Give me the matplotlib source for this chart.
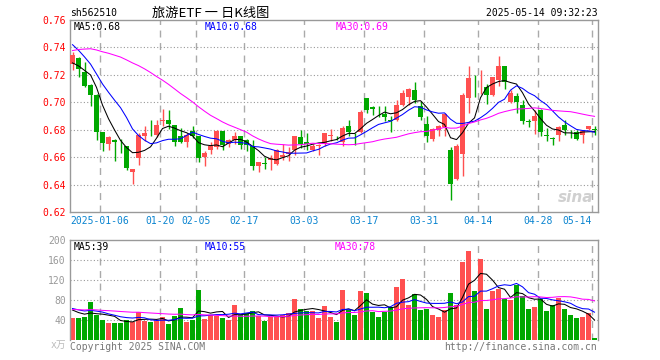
import matplotlib
matplotlib.use('Agg')
from matplotlib import pyplot as plt
import numpy as np
import pandas as pd

plt.rcParams['font.family'] = ['DejaVu Sans Mono', 'Noto Sans CJK SC']

# daily candles, 2024-12-27 .. 2025-05-14 (88 trading days)
open_ = [0.7279, 0.7323, 0.7218, 0.7128, 0.7055, 0.6780, 0.6698, 0.6727, 0.6675, 0.6678,
         0.6489, 0.6591, 0.6751, 0.6806, 0.6763, 0.6866, 0.6873, 0.6836, 0.6756, 0.6708,
         0.6793, 0.6751, 0.6600, 0.6649, 0.6673, 0.6788, 0.6698, 0.6727, 0.6756, 0.6727,
         0.6678, 0.6537, 0.6553, 0.6578, 0.6552, 0.6600, 0.6622, 0.6649, 0.6746, 0.6708,
         0.6654, 0.6681, 0.6698, 0.6755, 0.6745, 0.6708, 0.6829, 0.6770, 0.6780, 0.7031,
         0.6965, 0.6927, 0.6917, 0.6868, 0.6873, 0.6983, 0.7038, 0.7087, 0.6975, 0.6844,
         0.6732, 0.6795, 0.6819, 0.6654, 0.6440, 0.6625, 0.7031, 0.7112, 0.7138, 0.7112,
         0.7055, 0.7160, 0.7267, 0.7000, 0.7048, 0.6983, 0.6861, 0.6863, 0.6946, 0.6757,
         0.6733, 0.6763, 0.6836, 0.6783, 0.6780, 0.6763, 0.6805, 0.6801]
high = [0.7370, 0.7330, 0.7291, 0.7135, 0.7060, 0.6785, 0.6756, 0.6730, 0.6732, 0.6683,
        0.6515, 0.6776, 0.6829, 0.6873, 0.6868, 0.6951, 0.6941, 0.6836, 0.6812, 0.6776,
        0.6829, 0.6756, 0.6647, 0.6712, 0.6795, 0.6788, 0.6734, 0.6785, 0.6756, 0.6734,
        0.6727, 0.6566, 0.6600, 0.6617, 0.6659, 0.6698, 0.6673, 0.6756, 0.6795, 0.6776,
        0.6698, 0.6698, 0.6776, 0.6805, 0.6756, 0.6829, 0.6873, 0.6776, 0.6941, 0.7031,
        0.6975, 0.6970, 0.6970, 0.6902, 0.7019, 0.7087, 0.7104, 0.7146, 0.7007, 0.6897,
        0.6812, 0.6836, 0.6922, 0.6675, 0.6698, 0.7068, 0.7262, 0.7202, 0.7233, 0.7136,
        0.7184, 0.7335, 0.7267, 0.7087, 0.7068, 0.7019, 0.6881, 0.6941, 0.6953, 0.6812,
        0.6750, 0.6824, 0.6873, 0.6795, 0.6795, 0.6795, 0.6829, 0.6829]
low = [0.7233, 0.7182, 0.7110, 0.6970, 0.6727, 0.6642, 0.6650, 0.6569, 0.6630, 0.6508,
       0.6406, 0.6545, 0.6715, 0.6751, 0.6746, 0.6829, 0.6805, 0.6678, 0.6703, 0.6671,
       0.6739, 0.6564, 0.6537, 0.6622, 0.6659, 0.6649, 0.6673, 0.6693, 0.6661, 0.6642,
       0.6503, 0.6489, 0.6513, 0.6508, 0.6545, 0.6576, 0.6569, 0.6617, 0.6666, 0.6654,
       0.6642, 0.6618, 0.6683, 0.6715, 0.6727, 0.6679, 0.6751, 0.6690, 0.6776, 0.6922,
       0.6909, 0.6892, 0.6861, 0.6780, 0.6861, 0.6970, 0.6983, 0.6995, 0.6868, 0.6708,
       0.6720, 0.6756, 0.6756, 0.6289, 0.6435, 0.6460, 0.6920, 0.7038, 0.7063, 0.6990,
       0.7048, 0.7116, 0.7097, 0.6998, 0.6922, 0.6842, 0.6817, 0.6771, 0.6754, 0.6715,
       0.6685, 0.6720, 0.6763, 0.6739, 0.6722, 0.6703, 0.6795, 0.6763]
close = [0.7347, 0.7243, 0.7116, 0.7055, 0.6780, 0.6703, 0.6746, 0.6708, 0.6673, 0.6520,
         0.6515, 0.6761, 0.6776, 0.6803, 0.6836, 0.6868, 0.6844, 0.6708, 0.6708, 0.6763,
         0.6756, 0.6593, 0.6630, 0.6678, 0.6788, 0.6690, 0.6727, 0.6756, 0.6688, 0.6690,
         0.6537, 0.6566, 0.6551, 0.6593, 0.6654, 0.6617, 0.6635, 0.6756, 0.6698, 0.6698,
         0.6683, 0.6683, 0.6776, 0.6756, 0.6744, 0.6812, 0.6780, 0.6768, 0.6927, 0.6946,
         0.6951, 0.6926, 0.6892, 0.6866, 0.6983, 0.7068, 0.7097, 0.7019, 0.6892, 0.6751,
         0.6805, 0.6829, 0.6917, 0.6406, 0.6683, 0.7055, 0.7177, 0.7110, 0.7141, 0.7055,
         0.7184, 0.7267, 0.7146, 0.7068, 0.7000, 0.6866, 0.6859, 0.6897, 0.6783, 0.6756,
         0.6732, 0.6820, 0.6795, 0.6781, 0.6732, 0.6788, 0.6829, 0.6800]
volume = [44.7, 44.7, 46, 76.7, 51, 40, 34.7, 34.7, 34.7, 41,
          36, 57, 38, 36.7, 38, 46, 32, 48.7, 64.7, 36.7,
          40, 100, 42, 50, 48.7, 44.7, 40, 70, 50, 55,
          58, 48.7, 38.7, 46.7, 46.7, 50, 54.7, 82, 62, 58,
          58, 44.7, 68, 46.7, 36.7, 100, 60, 50, 98, 94,
          56.7, 46.7, 56.7, 66.7, 106, 122, 70, 92, 60, 62,
          50, 46, 60, 94, 70, 156.7, 178, 98, 163, 62,
          98, 103, 82, 80, 111, 88, 62, 66.7, 82, 58,
          70, 84.7, 62, 50, 44.7, 46.7, 55, 3.3]

# sessions before the window, only feed the moving averages (estimated from MA lines)
pre_close = [0.700, 0.703, 0.698, 0.705, 0.710, 0.707, 0.712, 0.709, 0.714, 0.718,
             0.735, 0.748, 0.760, 0.771, 0.768, 0.775, 0.770, 0.772, 0.766, 0.770,
             0.765, 0.760, 0.758, 0.750, 0.7435, 0.735, 0.728, 0.722, 0.7238]
pre_volume = [55, 62, 58, 66, 70, 52, 57, 61, 64, 59, 55, 63, 58, 60, 66, 54, 62, 57, 63, 58,
              72, 68, 64, 66, 60, 70, 62, 65, 58]

tick_pos = [5, 15, 21, 29, 39, 49, 59, 68, 78, 87]
tick_labels = ['2025-01-06', '01-20', '02-05', '02-17', '03-03', '03-17', '03-31',
               '04-14', '04-28', '05-14']

RED = '#ff5050'
GREEN = '#00a800'
MA_COLORS = {5: 'black', 10: '#0000ff', 30: '#ff00ff'}

n = len(close)
x = np.arange(n) + 0.42
o = np.array(open_); c = np.array(close); h = np.array(high); l = np.array(low)
up = c >= o
colors = np.where(up, RED, GREEN)

all_close = pd.Series(pre_close + close)
all_vol = pd.Series(pre_volume + volume)
ma_p = {k: all_close.rolling(k).mean().values[-n:] for k in (5, 10, 30)}
ma_v = {k: all_vol.rolling(k).mean().values[-n:] for k in (5, 10, 30)}

W, H = 660, 360
fig = plt.figure(figsize=(6.6, 3.6), dpi=100)


def px(xp, yp):
    return xp / W, 1 - yp / H


ax = fig.add_axes([70 / W, 1 - 212 / H, 528 / W, 192 / H])
axv = fig.add_axes([70 / W, 1 - 340 / H, 528 / W, 100 / H])

for a in (ax, axv):
    a.set_xlim(0, n)
    for s in a.spines.values():
        s.set_color('#999999')
        s.set_linewidth(1)
    for t in tick_pos:
        a.axvline(t, color='#aaaaaa', lw=1, dashes=(5, 4), zorder=0)
    a.tick_params(length=0)

axv.spines['bottom'].set_visible(False)

# price panel
ax.set_ylim(0.62, 0.76)
ax.set_yticks(np.arange(0.62, 0.7601, 0.02))
ax.set_yticklabels(['%.2f' % v for v in np.arange(0.62, 0.7601, 0.02)], color='red', fontsize=7)
ax.tick_params(axis='y', pad=3)
for v in np.arange(0.64, 0.75, 0.02):
    ax.axhline(v, color='#999999', lw=0.8, dashes=(1, 2), zorder=0)

ax.vlines(x, l, h, colors=colors, lw=1, zorder=2)
body = np.abs(c - o)
body = np.where(body < 0.0004, 0.0004, body)
ax.bar(x, body, bottom=np.minimum(o, c), width=0.83, color=colors, lw=0, zorder=3)
for k in (5, 10, 30):
    ax.plot(x, ma_p[k], color=MA_COLORS[k], lw=0.75, zorder=4)

ax.set_xticks(tick_pos)
ax.set_xticklabels(tick_labels, color='#0a84d0', fontsize=7)
ax.tick_params(axis='x', pad=3)
ax.get_xticklabels()[-1].set_ha('right')

# volume panel
axv.set_ylim(0, 200)
axv.set_yticks([40, 80, 120, 160, 200])
axv.set_yticklabels(['40', '80', '120', '160', '200'], color='#999999', fontsize=7)
axv.tick_params(axis='y', pad=3)
axv.set_xticks([])
for v in (40, 80, 120, 160):
    axv.axhline(v, color='#999999', lw=0.8, dashes=(1, 2), zorder=0)
axv.bar(x, volume, width=0.83, color=colors, lw=0, zorder=2)
for k in (5, 10, 30):
    axv.plot(x, ma_v[k], color=MA_COLORS[k], lw=0.75, zorder=3)

# texts
fig.text(*px(70, 13), 'sh562510', fontsize=7, va='center')
fig.text(*px(152, 13), '旅游ETF 一 日K线图', fontsize=9.5, va='center', family='Noto Sans CJK SC')
fig.text(*px(598, 13), '2025-05-14 09:32:23', fontsize=7, va='center', ha='right')

fig.text(*px(74, 27), 'MA5:%.2f' % ma_p[5][-1], fontsize=7, va='center', color='black')
fig.text(*px(205, 27), 'MA10:%.2f' % ma_p[10][-1], fontsize=7, va='center', color='#0000ff')
fig.text(*px(336, 27), 'MA30:%.2f' % ma_p[30][-1], fontsize=7, va='center', color='#ff00ff')

fig.text(*px(74, 247), 'MA5:%d' % ma_v[5][-1], fontsize=7, va='center', color='black')
fig.text(*px(205, 247), 'MA10:%d' % ma_v[10][-1], fontsize=7, va='center', color='#0000ff')
fig.text(*px(335, 247), 'MA30:%d' % ma_v[30][-1], fontsize=7, va='center', color='#ff00ff')

fig.text(*px(66, 345), 'x万', fontsize=7, va='center', ha='right', color='#bbbbbb')
fig.text(*px(70, 347), 'Copyright 2025 SINA.COM', fontsize=7, va='center', color='#777777')
fig.text(*px(597, 347), 'http://finance.sina.com.cn', fontsize=7, va='center', ha='right', color='#777777')

fig.text(*px(576, 197), 'sina', fontsize=11, ha='center', va='center', color='#d0d0d0',
         weight='bold', style='italic', family='DejaVu Sans')

fig.savefig('out.png', dpi=100, facecolor='white')
